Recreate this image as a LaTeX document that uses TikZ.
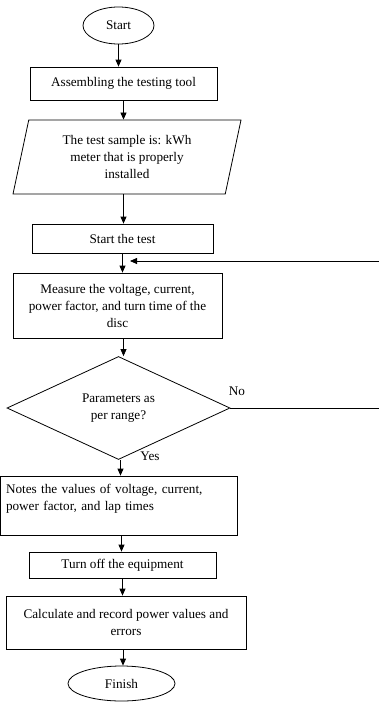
\documentclass[tikz,border=0pt]{standalone}
\usepackage{fontspec}
\setmainfont{Liberation Serif}
\usetikzlibrary{positioning, arrows.meta, shapes.geometric, calc}

\begin{document}
\begin{tikzpicture}[
  x=1pt, y=-1pt,
  line width=0.8pt,
  font=\fontsize{13.2}{17}\selectfont,
  >={Triangle[width=6pt,length=7pt]},
  term/.style={draw, ellipse, inner sep=0pt},
  proc/.style={draw, rectangle, align=center, inner sep=3pt},
  io/.style={draw, trapezium, trapezium left angle=70, trapezium right angle=110, trapezium stretches body, align=center, inner sep=0pt},
  decision/.style={draw, diamond, align=center, inner sep=0pt},
  arr/.style={->},
  lbl/.style={inner sep=0pt},
]
\path[use as bounding box, fill=white] (0,0) rectangle (378,702);

% ---- main column ----
\node[term, minimum width=71pt, minimum height=37pt] (start) at (118.5,25.5) {Start};
\node[proc, minimum width=187pt, minimum height=33pt] (assem) at (123.5,83.5) {Assembling the testing tool};
\node[io, minimum width=228pt, minimum height=74pt] (sample) at (127,157) {The test sample is: kWh\\meter that is properly\\installed};
\node[proc, minimum width=181pt, minimum height=29pt] (begin) at (122.5,238.5) {Start the test};
\node[proc, minimum width=209pt, minimum height=65pt] (measure) at (117.5,305.5) {Measure the voltage, current,\\power factor, and turn time of the\\disc};
\node[decision, minimum width=223pt, minimum height=103pt] (check) at (118.5,408) {Parameters as\\per range?};
\node[proc, minimum height=59pt, text width=225pt, inner xsep=6pt, align=left] (notes) at (118.5,505.5) {Notes the values of voltage, current,\\power factor, and lap times\\~};
\node[proc, minimum width=187pt, minimum height=26pt] (off) at (122.5,565) {Turn off the equipment};
\node[proc, minimum width=240pt, minimum height=53pt] (calc) at (126,622.5) {Calculate and record power values and\\errors};
\node[term, minimum width=107pt, minimum height=35pt] (finish) at (121.5,683.5) {Finish};

% ---- arrows down ----
\draw[arr] (start.south) -- (start.south |- assem.north);
\draw[arr] (assem.south) -- (assem.south |- sample.north);
\draw[arr] (assem.south |- sample.south) -- (assem.south |- begin.north);
\draw[arr] (begin.south) -- (begin.south |- measure.north);
\draw[arr] ([xshift=6pt]measure.south) -- ([xshift=6pt]measure.south |- check.north);
\draw[arr] ([xshift=2pt]check.south) -- ([xshift=2pt]check.south |- notes.north);
\draw[arr] ([xshift=3pt]notes.south) -- ([xshift=3pt]notes.south |- off.north);
\draw[arr] (off.south) -- (off.south |- calc.north);
\draw[arr] ([xshift=-3pt]calc.south) -- ([xshift=-3pt]calc.south |- finish.north);

% ---- loop back ----
\coordinate (back) at (130,261);
\draw[arr] (check.east) -- ++(160,0) |- (back);
\node[lbl] (no) at (237,391) {No};
\node[lbl] (yes) at (150,456) {Yes};

\end{tikzpicture}
\end{document}
